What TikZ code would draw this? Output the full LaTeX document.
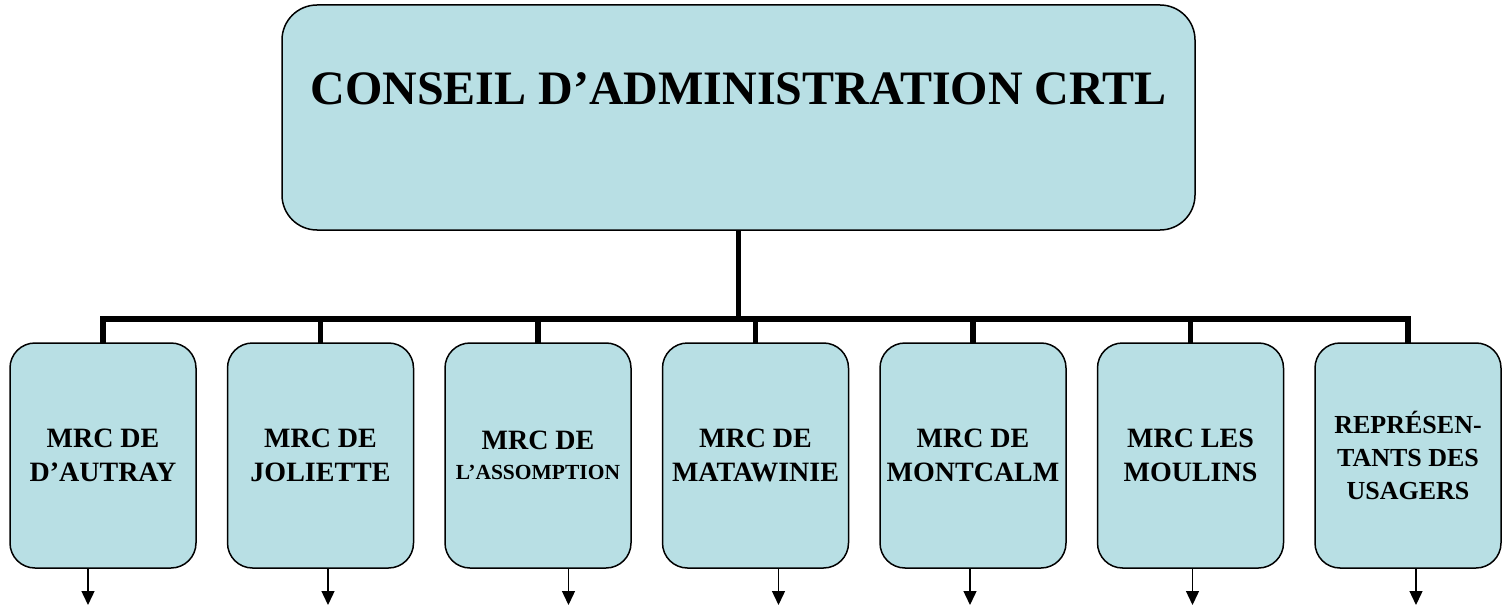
\documentclass[tikz,border=0pt]{standalone}
\usepackage{fontspec}
\setmainfont{Liberation Serif}
\usetikzlibrary{arrows.meta, positioning}
\definecolor{boxblue}{HTML}{B8DFE4}

\begin{document}
\begin{tikzpicture}[x=1pt, y=-1pt,
    topbox/.style={draw, line width=1.5pt, fill=boxblue, rounded corners=35pt,
        minimum width=913pt, minimum height=225pt, inner sep=0pt,
        font=\bfseries\fontsize{48}{56}\selectfont, text height=34pt, text depth=60pt},
    mrcbox/.style={draw, line width=1.5pt, fill=boxblue, rounded corners=25pt,
        minimum width=186pt, minimum height=225pt, inner sep=0pt, outer sep=0pt, align=center,
        font=\bfseries\fontsize{28}{34}\selectfont},
    link/.style={line width=5.5pt},
    outarrow/.style={line width=1.4pt, -{Triangle[width=13pt,length=14pt]}}]
    \useasboundingbox (0,0) rectangle (1510,607);

    % Conseil
    \node[topbox] (ca) at (738.5,117.5) {CONSEIL D’ADMINISTRATION CRTL};

    % MRC boxes
    \node[mrcbox] (mrc1) at (103,455.5) {MRC DE\\D’AUTRAY};
    \node[mrcbox, right=31.5pt of mrc1] (mrc2) {MRC DE\\JOLIETTE};
    \node[mrcbox, right=31.5pt of mrc2] (mrc3) {MRC DE\\[-4pt]{\fontsize{21.5}{26}\selectfont L’ASSOMPTION}};
    \node[mrcbox, right=31.5pt of mrc3] (mrc4) {MRC DE\\MATAWINIE};
    \node[mrcbox, right=31.5pt of mrc4] (mrc5) {MRC DE\\MONTCALM};
    \node[mrcbox, right=31.5pt of mrc5] (mrc6) {MRC LES\\MOULINS};
    \node[mrcbox, right=31.5pt of mrc6, font=\bfseries\fontsize{26}{33}\selectfont] (mrc7) {REPRÉSEN-\\TANTS DES\\USAGERS};

    % Links
    \coordinate (bar) at (738.5,319);
    \draw[link] (ca.south) -- (bar);
    \draw[link] (mrc1.north) |- (bar);
    \draw[link] (mrc2.north) |- (bar);
    \draw[link] (mrc3.north) |- (bar);
    \draw[link] (mrc4.north) |- (bar);
    \draw[link] (mrc5.north) |- (bar);
    \draw[link] (mrc6.north) |- (bar);
    \draw[link] (mrc7.north) |- (bar);

    % Arrows below
    \draw[outarrow] ([xshift=-15pt]mrc1.south) -- ++(0,37);
    \draw[outarrow] ([xshift=7.5pt]mrc2.south) -- ++(0,37);
    \draw[outarrow] ([xshift=30.5pt]mrc3.south) -- ++(0,37);
    \draw[outarrow] ([xshift=23pt]mrc4.south) -- ++(0,37);
    \draw[outarrow] ([xshift=-3pt]mrc5.south) -- ++(0,37);
    \draw[outarrow] ([xshift=2pt]mrc6.south) -- ++(0,37);
    \draw[outarrow] ([xshift=8pt]mrc7.south) -- ++(0,37);
\end{tikzpicture}
\end{document}
